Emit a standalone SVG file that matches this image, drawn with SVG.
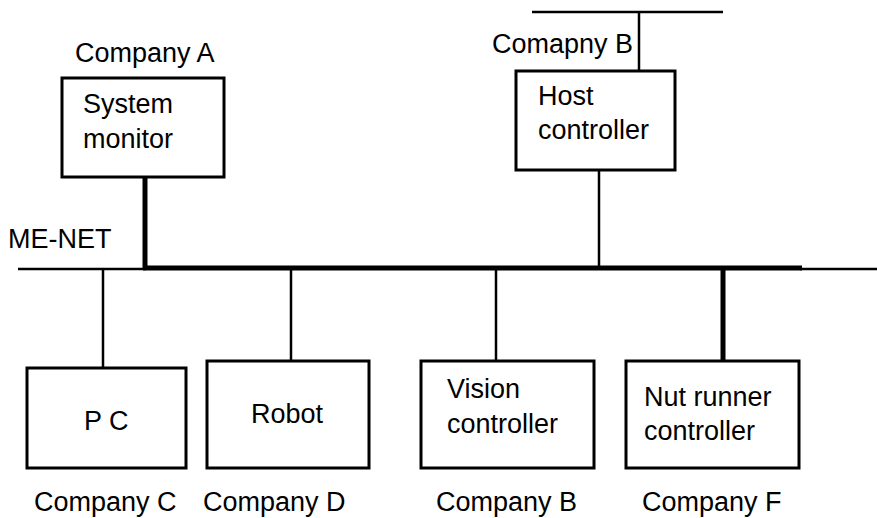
<svg xmlns="http://www.w3.org/2000/svg" width="877" height="518" viewBox="0 0 877 518">
  <style>
    text { font-family: "Liberation Sans", Arial, sans-serif; font-size: 27px; fill: #000; }
    .box { fill: #fff; stroke: #000; stroke-width: 3; }
    .thin { stroke: #000; stroke-width: 2.5; fill: none; }
    .thick { stroke: #000; stroke-width: 5; fill: none; }
  </style>
  <rect width="877" height="518" fill="#fff"/>

  <!-- network lines -->
  <g id="connectors">
    <!-- ME-NET bus -->
    <line class="thin" x1="18" y1="269" x2="146" y2="269"/>
    <line class="thick" x1="143" y1="268" x2="802" y2="268"/>
    <line class="thin" x1="800" y1="269" x2="877" y2="269"/>
    <!-- upper network of the host controller -->
    <line class="thin" x1="532" y1="12" x2="723" y2="12"/>
    <line class="thin" x1="639" y1="12" x2="639" y2="71"/>
    <!-- drops -->
    <line class="thick" x1="145" y1="176" x2="145" y2="268"/>
    <line class="thin" x1="599" y1="170" x2="599" y2="268"/>
    <line class="thin" x1="103" y1="268" x2="103" y2="368"/>
    <line class="thin" x1="291" y1="268" x2="291" y2="361"/>
    <line class="thin" x1="496" y1="268" x2="496" y2="361"/>
    <line class="thick" x1="723" y1="266" x2="723" y2="361"/>
  </g>

  <text x="8" y="248">ME-NET</text>

  <g id="system-monitor">
    <text x="75" y="62">Company A</text>
    <rect class="box" x="62" y="78" width="162" height="99"/>
    <text x="83" y="113">System</text>
    <text x="83" y="148">monitor</text>
  </g>

  <g id="host-controller">
    <text x="492" y="53">Comapny B</text>
    <rect class="box" x="516" y="71" width="159" height="99"/>
    <text x="538" y="105">Host</text>
    <text x="538" y="139">controller</text>
  </g>

  <g id="pc">
    <rect class="box" x="27" y="368" width="159" height="100"/>
    <text x="84" y="430">P C</text>
    <text x="34" y="511">Company C</text>
  </g>

  <g id="robot">
    <rect class="box" x="207" y="361" width="162" height="107"/>
    <text x="251" y="423">Robot</text>
    <text x="203" y="511">Company D</text>
  </g>

  <g id="vision-controller">
    <rect class="box" x="421" y="361" width="173" height="107"/>
    <text x="447" y="398">Vision</text>
    <text x="447" y="433">controller</text>
    <text x="436" y="511">Company B</text>
  </g>

  <g id="nut-runner-controller">
    <rect class="box" x="626" y="361" width="173" height="107"/>
    <text x="644" y="406">Nut runner</text>
    <text x="644" y="440">controller</text>
    <text x="642" y="511">Company F</text>
  </g>
</svg>
